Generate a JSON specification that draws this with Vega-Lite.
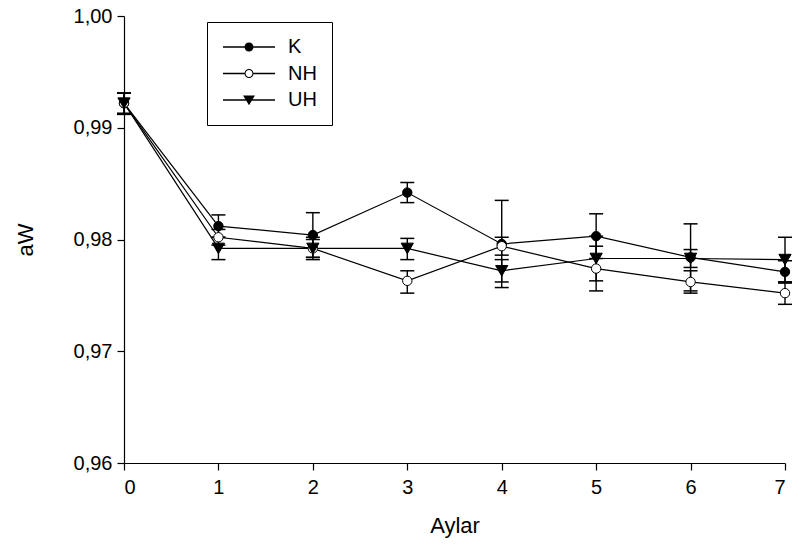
{
  "$schema": "https://vega.github.io/schema/vega-lite/v6.json",
  "width": 661,
  "height": 447,
  "autosize": "none",
  "padding": {"left": 124, "top": 16, "right": 26, "bottom": 88},
  "background": "white",
  "config": {
    "locale": {"number": {"decimal": ",", "thousands": ".", "grouping": [3], "currency": ["", ""]}},
    "view": {"stroke": null},
    "font": "Liberation Sans"
  },
  "data": {
    "values": [
      {"month": 0, "group": "K", "mean": 0.9922, "lo": 0.9912, "hi": 0.9931},
      {"month": 1, "group": "K", "mean": 0.9812, "lo": 0.9802, "hi": 0.9822},
      {"month": 2, "group": "K", "mean": 0.9804, "lo": 0.9784, "hi": 0.9824},
      {"month": 3, "group": "K", "mean": 0.9842, "lo": 0.9833, "hi": 0.9851},
      {"month": 4, "group": "K", "mean": 0.9796, "lo": 0.9757, "hi": 0.9835},
      {"month": 5, "group": "K", "mean": 0.9803, "lo": 0.9783, "hi": 0.9823},
      {"month": 6, "group": "K", "mean": 0.9784, "lo": 0.9754, "hi": 0.9814},
      {"month": 7, "group": "K", "mean": 0.9771, "lo": 0.9761, "hi": 0.9781},
      {"month": 0, "group": "NH", "mean": 0.9922, "lo": 0.9913, "hi": 0.9931},
      {"month": 1, "group": "NH", "mean": 0.9802, "lo": 0.9795, "hi": 0.9809},
      {"month": 2, "group": "NH", "mean": 0.9792, "lo": 0.9784, "hi": 0.98},
      {"month": 3, "group": "NH", "mean": 0.9763, "lo": 0.9752, "hi": 0.9772},
      {"month": 4, "group": "NH", "mean": 0.9794, "lo": 0.9786, "hi": 0.9802},
      {"month": 5, "group": "NH", "mean": 0.9774, "lo": 0.9754, "hi": 0.9794},
      {"month": 6, "group": "NH", "mean": 0.9762, "lo": 0.9752, "hi": 0.9772},
      {"month": 7, "group": "NH", "mean": 0.9752, "lo": 0.9742, "hi": 0.9762},
      {"month": 0, "group": "UH", "mean": 0.9922, "lo": 0.9912, "hi": 0.9931},
      {"month": 1, "group": "UH", "mean": 0.9792, "lo": 0.9782, "hi": 0.9802},
      {"month": 2, "group": "UH", "mean": 0.9792, "lo": 0.9782, "hi": 0.9802},
      {"month": 3, "group": "UH", "mean": 0.9792, "lo": 0.9782, "hi": 0.9801},
      {"month": 4, "group": "UH", "mean": 0.9772, "lo": 0.9762, "hi": 0.9782},
      {"month": 5, "group": "UH", "mean": 0.9783, "lo": 0.9763, "hi": 0.9803},
      {"month": 6, "group": "UH", "mean": 0.9783, "lo": 0.9775, "hi": 0.9791},
      {"month": 7, "group": "UH", "mean": 0.9782, "lo": 0.9762, "hi": 0.9802}
    ]
  },
  "encoding": {
    "x": {
      "field": "month",
      "type": "quantitative",
      "scale": {"domain": [0, 7], "nice": false},
      "axis": {
        "title": "Aylar", "values": [0, 1, 2, 3, 4, 5, 6, 7], "format": "d",
        "grid": false, "domainColor": "black", "domainWidth": 1.2, "tickColor": "black", "tickWidth": 1.2, "tickSize": 7,
        "labelColor": "black", "labelFont": "Liberation Sans", "labelFontSize": 20, "labelPadding": 7,
        "titleColor": "black", "titleFont": "Liberation Sans", "titleFontSize": 22, "titleFontWeight": "normal", "titlePadding": 18
      }
    }
  },
  "layer": [
    {
      "mark": {"type": "line", "color": "black", "strokeWidth": 1.2},
      "encoding": {
        "y": {
          "field": "mean",
          "type": "quantitative",
          "scale": {"domain": [0.96, 1.0], "nice": false, "zero": false},
          "axis": {
            "title": "aW", "values": [0.96, 0.97, 0.98, 0.99, 1.0], "format": ".2f",
            "grid": false, "domainColor": "black", "domainWidth": 1.2, "tickColor": "black", "tickWidth": 1.2, "tickSize": 7,
            "labelColor": "black", "labelFont": "Liberation Sans", "labelFontSize": 20, "labelPadding": 5,
            "titleColor": "black", "titleFont": "Liberation Sans", "titleFontSize": 22, "titleFontWeight": "normal", "titlePadding": 36
          }
        },
        "detail": {"field": "group"}
      }
    },
    {
      "mark": {"type": "rule", "color": "black", "strokeWidth": 1.4},
      "encoding": {
        "y": {"field": "lo", "type": "quantitative"},
        "y2": {"field": "hi"}
      }
    },
    {
      "mark": {"type": "tick", "orient": "horizontal", "color": "black", "size": 14, "thickness": 1.5, "opacity": 1},
      "encoding": {"y": {"field": "lo", "type": "quantitative"}}
    },
    {
      "mark": {"type": "tick", "orient": "horizontal", "color": "black", "size": 14, "thickness": 1.5, "opacity": 1},
      "encoding": {"y": {"field": "hi", "type": "quantitative"}}
    },
    {
      "transform": [{"filter": "datum.month < 0"}],
      "mark": {"type": "point", "filled": true, "color": "black", "opacity": 1, "strokeWidth": 0},
      "encoding": {
        "y": {"field": "mean", "type": "quantitative"},
        "shape": {
          "field": "group", "type": "nominal",
          "scale": {"domain": ["K", "NH", "UH"], "range": [
            "M-1,-0.07H1.44V0.07H-1ZM2.34,-0.07H4.78V0.07H2.34ZM2.39,0A0.5,0.5,0,1,1,1.39,0A0.5,0.5,0,1,1,2.39,0Z",
            "M-1,-0.07H1.44V0.07H-1ZM2.34,-0.07H4.78V0.07H2.34ZM2.39,0A0.5,0.5,0,1,1,1.39,0A0.5,0.5,0,1,1,2.39,0ZM2.27,0A0.38,0.38,0,1,0,1.51,0A0.38,0.38,0,1,0,2.27,0Z",
            "M-1,-0.07H4.78V0.07H-1ZM1.23,-0.5L2.55,-0.5L1.89,0.58Z"
          ]},
          "legend": {
            "orient": "none", "legendX": 83, "legendY": 6, "title": null,
            "padding": 15, "strokeColor": "black", "fillColor": "white",
            "labelFont": "Liberation Sans", "labelFontSize": 20, "labelColor": "black",
            "labelExpr": "datum.label + '\u00a0\u00a0\u00a0'",
            "labelOffset": 46, "symbolSize": 324, "symbolStrokeWidth": 0, "symbolOpacity": 1,
            "symbolFillColor": "black", "rowPadding": 6.5
          }
        }
      }
    },
    {
      "transform": [{"filter": "datum.group === 'K'"}],
      "mark": {"type": "point", "shape": "circle", "fill": "black", "stroke": "black", "strokeWidth": 1, "opacity": 1, "size": 88},
      "encoding": {"y": {"field": "mean", "type": "quantitative"}}
    },
    {
      "transform": [{"filter": "datum.group === 'NH'"}],
      "mark": {"type": "point", "shape": "circle", "fill": "white", "stroke": "black", "strokeWidth": 1, "opacity": 1, "size": 88},
      "encoding": {"y": {"field": "mean", "type": "quantitative"}}
    },
    {
      "transform": [{"filter": "datum.group === 'UH'"}],
      "mark": {"type": "point", "shape": "triangle-down", "fill": "black", "stroke": "black", "strokeWidth": 1, "opacity": 1, "size": 150},
      "encoding": {"y": {"field": "mean", "type": "quantitative"}}
    }
  ]
}
